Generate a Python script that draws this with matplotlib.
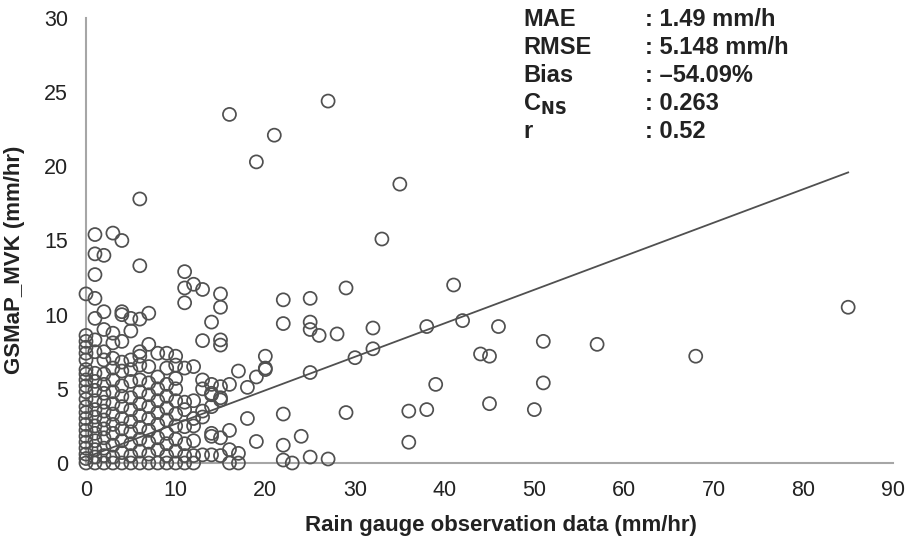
import matplotlib
matplotlib.use("Agg")
import matplotlib.pyplot as plt
import numpy as np

plt.rcParams["font.family"] = ["Liberation Sans", "DejaVu Sans"]

# Dense cluster of gauge values (integer mm/hr) with satellite estimates
cluster = {
    0: [0, 0.3, 0.6, 1.0, 1.4, 1.8, 2.2, 2.6, 3.0, 3.4, 3.8, 4.3, 4.8, 5.2, 5.6,
        6.0, 6.3, 6.95, 7.4, 7.8, 8.2, 8.6, 11.4],
    1: [0, 0.4, 0.9, 1.5, 2.0, 2.5, 3.1, 3.6, 4.2, 4.9, 5.5, 6.05, 7.5, 8.3, 9.75,
        11.1, 12.7, 14.1, 15.4],
    2: [0, 0.5, 1.0, 1.7, 2.3, 2.9, 3.5, 4.1, 4.7, 5.3, 6.0, 6.95, 7.5, 9.0, 10.2, 14.0],
    3: [0, 0.4, 1.2, 2.0, 2.6, 3.3, 4.0, 4.8, 5.6, 6.4, 7.06, 8.1, 8.75, 15.5],
    4: [0, 0.7, 1.5, 2.3, 3.0, 3.8, 4.5, 5.2, 6.2, 6.8, 8.2, 10.0, 10.2, 15.0],
    5: [0, 0.5, 1.3, 2.1, 2.8, 3.6, 4.4, 5.5, 6.3, 6.95, 8.9, 9.75],
    6: [0, 0.8, 1.6, 2.4, 3.2, 4.0, 4.8, 5.6, 6.6, 7.2, 7.5, 9.7, 13.3, 17.8],
    7: [0, 0.6, 1.4, 2.2, 3.0, 3.8, 4.6, 5.4, 6.5, 8.0, 10.1],
    8: [0, 0.9, 1.7, 2.6, 3.4, 4.2, 5.0, 5.8, 7.4],
    9: [0, 0.5, 1.3, 2.0, 2.9, 3.7, 4.5, 5.3, 6.4, 7.4],
    10: [0, 0.8, 1.6, 2.5, 3.3, 4.2, 5.0, 5.7, 6.6, 7.2],
    11: [0, 0.5, 1.3, 2.45, 3.6, 4.1, 6.4, 10.8, 11.8, 12.9],
    12: [0, 0.5, 1.5, 2.5, 3.0, 4.2, 6.5, 12.05],
}

# Remaining observations (gauge, satellite)
gauge_extra = [13, 13, 13, 13, 13, 13, 13, 14, 14, 14, 14, 14, 14, 14, 14,
               15, 15, 15, 15, 15, 15, 15, 15, 15, 16, 16, 16, 16, 16, 17, 17, 17,
               18, 18, 19, 19, 19, 20, 20, 20, 21, 22, 22, 22, 22, 22, 23, 24,
               25, 25, 25, 25, 25, 26, 27, 27, 28, 29, 29, 30, 32, 32, 33, 35,
               36, 36, 38, 38, 39, 41, 42, 44, 45, 45, 46, 50, 51, 51, 57, 68, 85]
sat_extra = [11.7, 8.25, 5.0, 3.5, 3.1, 0.55, 5.6, 9.5, 5.3, 4.7, 3.8, 1.8, 2.0, 0.55, 4.6,
             11.4, 10.5, 8.3, 7.95, 5.15, 4.25, 1.7, 0.5, 4.4, 23.5, 5.3, 2.2, 0.9, 0.0, 6.2, 0.65, 0.0,
             5.1, 3.0, 20.3, 5.8, 1.45, 7.2, 6.4, 6.3, 22.1, 11.0, 9.4, 3.3, 1.2, 0.2, 0.0, 1.8,
             11.1, 9.5, 9.0, 6.1, 0.4, 8.6, 24.4, 0.27, 8.7, 11.8, 3.4, 7.1, 9.1, 7.7, 15.1, 18.8,
             3.5, 1.4, 9.2, 3.6, 5.3, 12.0, 9.6, 7.35, 7.2, 4.0, 9.2, 3.6, 8.2, 5.4, 8.0, 7.2, 10.5]

gauge = [g for g, ys in cluster.items() for _ in ys] + gauge_extra
sat = [y for ys in cluster.values() for y in ys] + sat_extra

# Linear trend line
trend_slope = 0.226
trend_intercept = 0.38

stat_names = ["MAE", "RMSE", "Bias", r"C$_{\mathbf{NS}}$", "r"]
stat_values = [": 1.49 mm/h", ": 5.148 mm/h", ": \u201354.09%", ": 0.263", ": 0.52"]

xticks = [0, 10, 20, 30, 40, 50, 60, 70, 80, 90]
yticks = [0, 5, 10, 15, 20, 25, 30]

W, H = 912, 547
fig = plt.figure(figsize=(W / 100, H / 100), dpi=100)
ax = fig.add_axes([86 / W, 1 - 463 / H, (893 - 86) / W, (463 - 18) / H])

ax.scatter(gauge, sat, s=88, facecolors="none", edgecolors="#505050",
           linewidths=1.25, clip_on=False, zorder=3)

tx = np.array([0, max(gauge)])
ax.plot(tx, trend_slope * tx + trend_intercept, color="#505050", lw=1.3, zorder=2)

ax.set_xlim(0, 90)
ax.set_ylim(0, 30)
ax.set_xticks(xticks)
ax.set_yticks(yticks)
ax.tick_params(length=0, labelsize=15.5, colors="#222222")
ax.tick_params(axis="y", pad=13)
ax.tick_params(axis="x", pad=12)
for side in ["top", "right"]:
    ax.spines[side].set_visible(False)
for side in ["left", "bottom"]:
    ax.spines[side].set_color("#a6a6a6")
    ax.spines[side].set_linewidth(1.5)

fig.text(501 / W, 1 - 531 / H, "Rain gauge observation data (mm/hr)", fontsize=16,
         fontweight="bold", color="#222222", ha="center", va="baseline")
fig.text(15 / W, 1 - 260 / H, "GSMaP_MVK (mm/hr)", fontsize=16, fontweight="bold",
         color="#222222", ha="center", va="center", rotation=90)

baselines = [26, 54.5, 82.5, 110.5, 138.5]
for n, v, b in zip(stat_names, stat_values, baselines):
    fig.text(523 / W, 1 - b / H, n, fontsize=17, fontweight="bold",
             color="#222222", va="baseline", ha="left")
    fig.text(645 / W, 1 - b / H, v, fontsize=17, fontweight="bold",
             color="#222222", va="baseline", ha="left")

fig.savefig("out.png", dpi=100)
